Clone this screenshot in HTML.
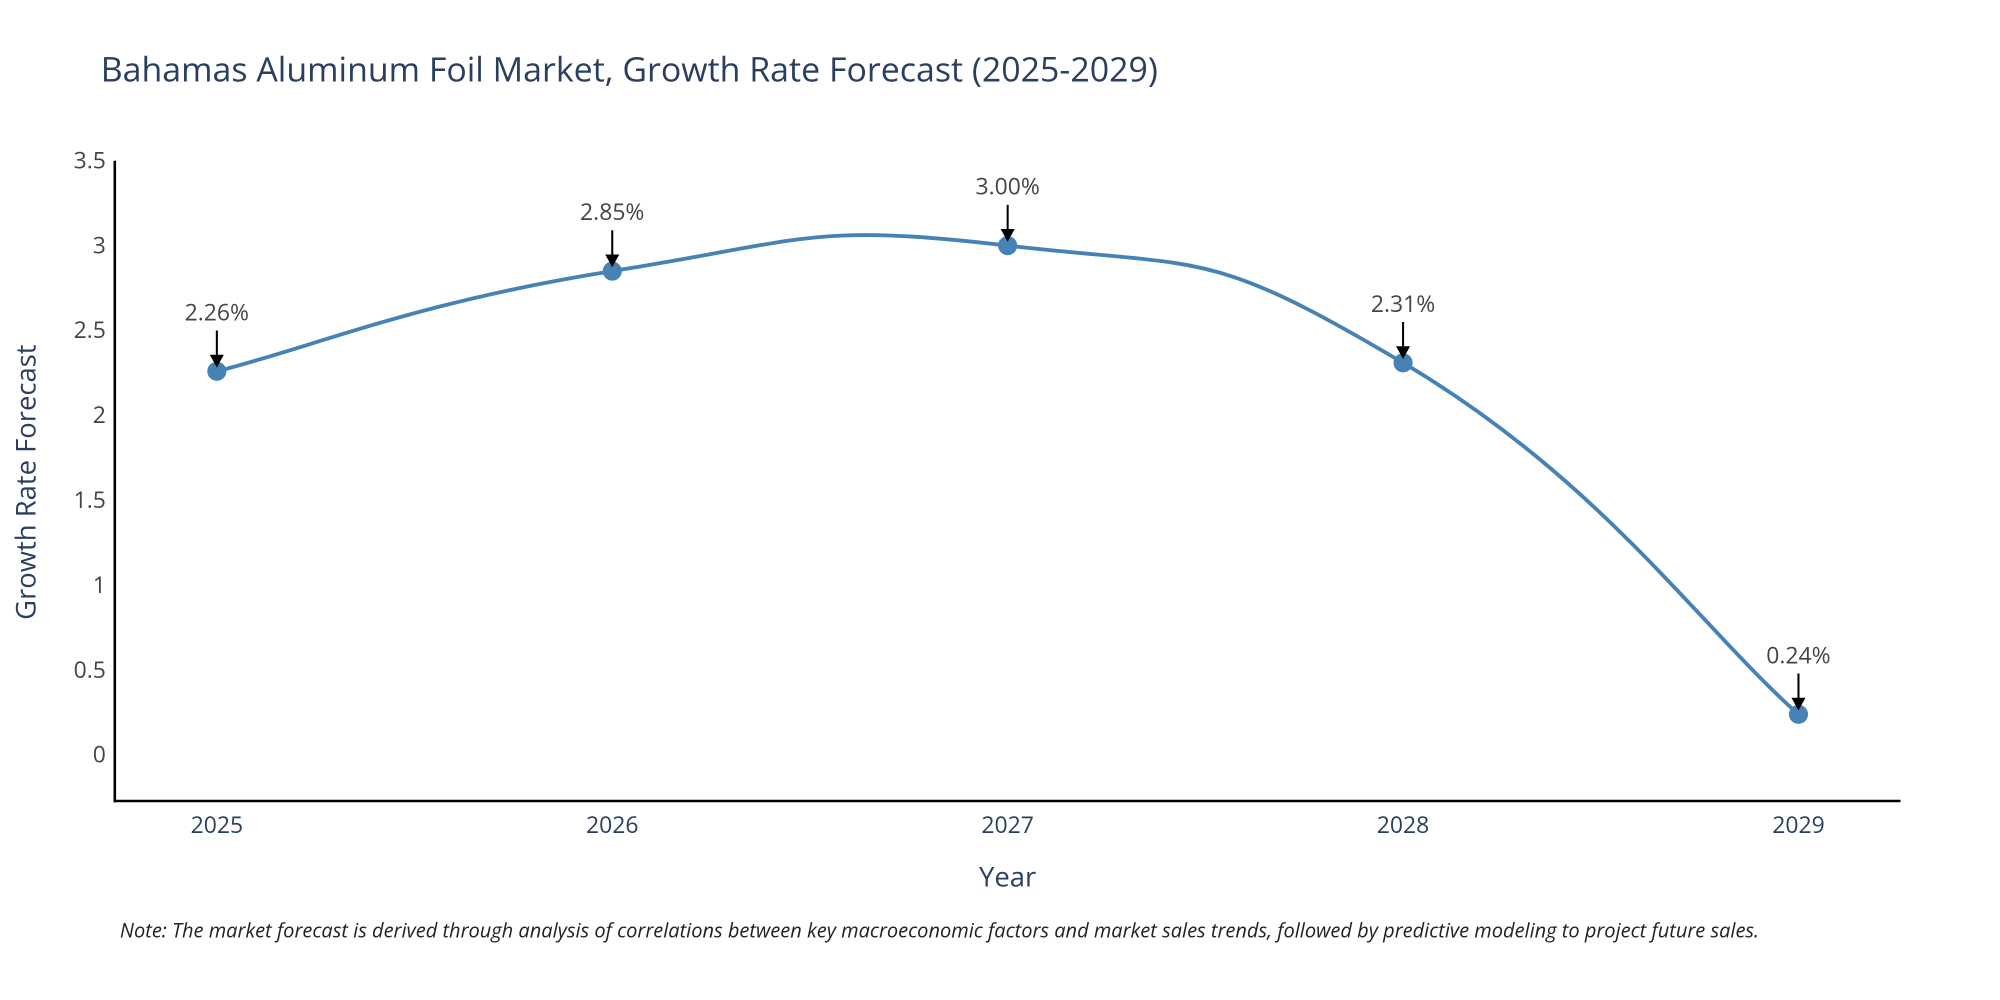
<!DOCTYPE html>
<html><head><meta charset="utf-8"><style>
html,body{margin:0;padding:0;background:#fff;}
svg{display:block;font-family:"Open Sans","Liberation Sans",sans-serif;}
</style></head><body>
<svg id="chart" width="2000" height="1000" viewBox="0 0 1568 784" xmlns="http://www.w3.org/2000/svg">
<text x="79" y="64" font-size="26.6" fill="#2a3f5f">Bahamas Aluminum Foil Market, Growth Rate Forecast (2025-2029)</text>
<g id="yticks"></g><g id="xticks"></g>
<path id="line" fill="none" stroke="#4682b4" stroke-width="3"/>
<g id="marks"></g>
<line x1="90" y1="126" x2="90" y2="629" stroke="#000" stroke-width="2"/>
<line x1="89" y1="628" x2="1490" y2="628" stroke="#000" stroke-width="2"/>
<text transform="translate(28,378) rotate(-90)" text-anchor="middle" font-size="21.5" fill="#2a3f5f">Growth Rate Forecast</text>
<text x="790" y="695" text-anchor="middle" font-size="21.5" fill="#2a3f5f">Year</text>
<text x="94" y="735" font-size="15.7" font-style="italic" fill="#222">Note: The market forecast is derived through analysis of correlations between key macroeconomic factors and market sales trends, followed by predictive modeling to project future sales.</text>
</svg>
<script>
const years=["2025","2026","2027","2028","2029"];
const values=[2.26,2.85,3.00,2.31,0.24];
const labels=["2.26%","2.85%","3.00%","2.31%","0.24%"];
const yTicks=[0,0.5,1,1.5,2,2.5,3,3.5];
const NS="http://www.w3.org/2000/svg";
const xS=i=>170+i*310;
const yS=v=>592-v*(466/3.5);
function mk(t,a,p){const e=document.createElementNS(NS,t);for(const k in a)e.setAttribute(k,a[k]);p.appendChild(e);return e;}
const yt=document.getElementById('yticks');
yTicks.forEach(v=>{const t=mk('text',{x:83,y:yS(v)+6,'text-anchor':'end','font-size':'18',fill:'#444'},yt);


t.textContent=v;});
const xt=document.getElementById('xticks');
years.forEach((y,i)=>{const t=mk('text',{x:xS(i),y:653,'text-anchor':'middle','font-size':'18',fill:'#2a3f5f'},xt);


t.textContent=y;});
const pts=values.map((v,i)=>[xS(i),yS(v)]);
let d=`M${pts[0][0]},${pts[0][1]}`;const s=0.25;
for(let i=0;i<pts.length-1;i++){const p0=pts[Math.max(0,i-1)],p1=pts[i],p2=pts[i+1],p3=pts[Math.min(pts.length-1,i+2)];
const c1=[p1[0]+(p2[0]-p0[0])*s,p1[1]+(p2[1]-p0[1])*s],c2=[p2[0]-(p3[0]-p1[0])*s,p2[1]-(p3[1]-p1[1])*s];
d+=` C${c1[0]},${c1[1]} ${c2[0]},${c2[1]} ${p2[0]},${p2[1]}`;}
document.getElementById('line').setAttribute('d',d);
const mg=document.getElementById('marks');
pts.forEach((p,i)=>{const c=mk('circle',{cx:p[0],cy:p[1],r:7.5,fill:'#4682b4'},mg);


const l=mk('line',{x1:p[0],y1:p[1]-32,x2:p[0],y2:p[1]-12,stroke:'#000','stroke-width':1.6},mg);


const h=mk('polygon',{points:`${p[0]-5.5},${p[1]-13} ${p[0]+5.5},${p[1]-13} ${p[0]},${p[1]-3}`,fill:'#000'},mg);


const t=mk('text',{x:p[0],y:p[1]-40,'text-anchor':'middle','font-size':'18',fill:'#444'},mg);


t.textContent=labels[i];});
</script>
</body></html>
